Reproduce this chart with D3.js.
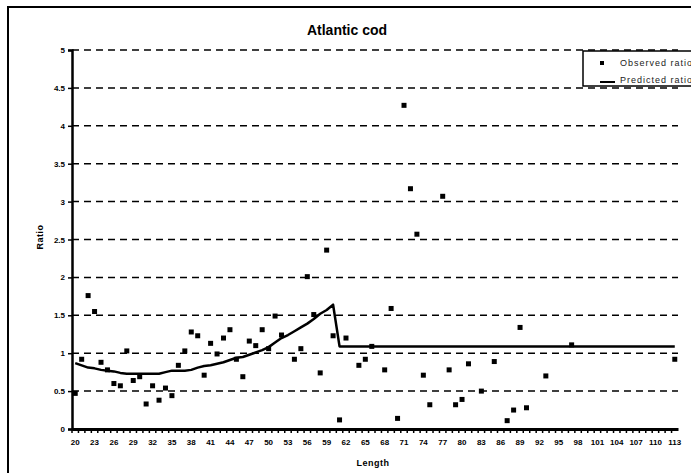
<!DOCTYPE html>
<html>
<head>
<meta charset="utf-8">
<script src="https://cdn.jsdelivr.net/npm/d3@7"></script>
<style>
  html, body { margin: 0; padding: 0; background: #fff; overflow: hidden; }
  svg { display: block; font-family: Arial, "Liberation Sans", sans-serif; }
</style>
</head>
<body>
<svg id="chart" width="691" height="473"></svg>
<script>
// Atlantic cod — observed vs predicted ratio by length

// categories: every length from 20 to 113
const lengths = d3.range(20, 114);
const yTicks = [0, 0.5, 1, 1.5, 2, 2.5, 3, 3.5, 4, 4.5, 5];

// observed ratio points (length, ratio)
const obsLength = [20, 21, 22, 23, 24, 25, 26, 27, 28, 29, 30, 31, 32, 33, 34, 35, 36, 37, 38, 39,
                   40, 41, 42, 43, 44, 45, 46, 47, 48, 49, 50, 51, 52, 54, 55, 56, 57, 58, 59, 60,
                   61, 62, 64, 65, 66, 68, 69, 70, 71, 72, 73, 74, 75, 77, 78, 79, 80, 81, 83, 85,
                   87, 88, 89, 90, 93, 97, 113];
const obsRatio  = [0.47, 0.92, 1.76, 1.55, 0.88, 0.78, 0.60, 0.57, 1.03, 0.64, 0.69, 0.33, 0.57, 0.38, 0.54, 0.44, 0.84, 1.03, 1.28, 1.23,
                   0.71, 1.13, 0.99, 1.20, 1.31, 0.92, 0.69, 1.16, 1.10, 1.31, 1.06, 1.49, 1.24, 0.92, 1.06, 2.01, 1.51, 0.74, 2.36, 1.23,
                   0.12, 1.20, 0.84, 0.92, 1.09, 0.78, 1.59, 0.14, 4.27, 3.17, 2.57, 0.71, 0.32, 3.07, 0.78, 0.32, 0.39, 0.86, 0.50, 0.89,
                   0.11, 0.25, 1.34, 0.28, 0.70, 1.11, 0.92];

// predicted ratio, one value per length 20..113
const predRatio = [0.87, 0.84, 0.81, 0.80, 0.78, 0.77, 0.76, 0.74, 0.73, 0.73,
                   0.73, 0.73, 0.73, 0.73, 0.75, 0.77, 0.77, 0.77, 0.78, 0.81,
                   0.83, 0.84, 0.86, 0.88, 0.91, 0.94, 0.95, 0.98, 1.01, 1.04,
                   1.08, 1.14, 1.20, 1.24, 1.29, 1.34, 1.39, 1.45, 1.52, 1.57,
                   1.64, 1.09, 1.09, 1.09, 1.09, 1.09, 1.09, 1.09, 1.09, 1.09,
                   1.09, 1.09, 1.09, 1.09, 1.09, 1.09, 1.09, 1.09, 1.09, 1.09,
                   1.09, 1.09, 1.09, 1.09, 1.09, 1.09, 1.09, 1.09, 1.09, 1.09,
                   1.09, 1.09, 1.09, 1.09, 1.09, 1.09, 1.09, 1.09, 1.09, 1.09,
                   1.09, 1.09, 1.09, 1.09, 1.09, 1.09, 1.09, 1.09, 1.09, 1.09,
                   1.09, 1.09, 1.09, 1.09];

const svg = d3.select("#chart");
const plotL = 72, plotR = 678, plotT = 50, plotB = 429;

// outer frame (runs past the right and bottom edges, as in the cropped original)
svg.append("rect")
    .attr("x", 8).attr("y", 7)
    .attr("width", 800).attr("height", 500)
    .attr("fill", "#fff")
    .attr("stroke", "#000")
    .attr("stroke-width", 2);

const x = d3.scaleBand().domain(lengths).range([plotL, plotR]);
const y = d3.scaleLinear().domain([0, 5]).range([plotB, plotT]);

// title
svg.append("text")
    .attr("x", 347).attr("y", 35)
    .attr("text-anchor", "middle")
    .attr("font-size", "14px")
    .attr("font-weight", "bold")
    .text("Atlantic cod");

// dashed gridlines
svg.append("g")
    .selectAll("line")
    .data(yTicks.filter(d => d > 0))
    .join("line")
    .attr("x1", plotL).attr("x2", plotR)
    .attr("y1", d => y(d)).attr("y2", d => y(d))
    .attr("stroke", "#000")
    .attr("stroke-width", 1.5)
    .attr("stroke-dasharray", "7,5");

// y axis
const yAxis = svg.append("g")
    .attr("transform", `translate(${plotL},0)`)
    .call(d3.axisLeft(y).tickValues(yTicks).tickSize(4).tickPadding(3).tickFormat(d => d));
yAxis.select(".domain").attr("stroke-width", 2.5);
yAxis.selectAll(".tick line").attr("stroke-width", 1.5);
yAxis.selectAll("text")
    .attr("font-size", "8px")
    .attr("font-weight", "bold")
    .attr("font-family", "Arial, 'Liberation Sans', sans-serif");

// x axis
const xAxis = svg.append("g")
    .attr("transform", `translate(0,${plotB})`)
    .call(d3.axisBottom(x).tickSize(0).tickPadding(10)
        .tickFormat(d => (d - 20) % 3 === 0 ? d : ""));
xAxis.select(".domain").attr("stroke-width", 3);
xAxis.selectAll("text")
    .attr("font-size", "8px")
    .attr("font-weight", "bold")
    .attr("font-family", "Arial, 'Liberation Sans', sans-serif");

// category boundary ticks
svg.append("g")
    .selectAll("line")
    .data(lengths)
    .join("line")
    .attr("x1", d => x(d)).attr("x2", d => x(d))
    .attr("y1", plotB).attr("y2", plotB + 4)
    .attr("stroke", "#000")
    .attr("stroke-width", 1.5);

// axis titles
svg.append("text")
    .attr("transform", "translate(43,237) rotate(-90)")
    .attr("text-anchor", "middle")
    .attr("font-size", "9px")
    .attr("font-weight", "bold")
    .attr("letter-spacing", "0.5px")
    .text("Ratio");

svg.append("text")
    .attr("x", 373).attr("y", 466)
    .attr("text-anchor", "middle")
    .attr("font-size", "9px")
    .attr("font-weight", "bold")
    .attr("letter-spacing", "0.5px")
    .text("Length");

const cx = d => x(d) + x.bandwidth() / 2;

// predicted line
svg.append("path")
    .datum(lengths.map((d, i) => [d, predRatio[i]]))
    .attr("fill", "none")
    .attr("stroke", "#000")
    .attr("stroke-width", 2.5)
    .attr("stroke-linejoin", "round")
    .attr("d", d3.line().x(d => cx(d[0])).y(d => y(d[1])));

// observed points
svg.append("g")
    .selectAll("rect")
    .data(obsLength.map((d, i) => [d, obsRatio[i]]))
    .join("rect")
    .attr("x", d => cx(d[0]) - 2.5)
    .attr("y", d => y(d[1]) - 2.5)
    .attr("width", 5).attr("height", 5)
    .attr("fill", "#000");

// legend (cut off by the right edge)
const lg = svg.append("g").attr("transform", "translate(583,51)");
lg.append("rect")
    .attr("width", 160).attr("height", 35)
    .attr("fill", "#fff")
    .attr("stroke", "#000")
    .attr("stroke-width", 1.5);
lg.append("rect")
    .attr("x", 17).attr("y", 10)
    .attr("width", 4).attr("height", 4)
    .attr("fill", "#000");
lg.append("line")
    .attr("x1", 17).attr("x2", 32)
    .attr("y1", 31).attr("y2", 31)
    .attr("stroke", "#000")
    .attr("stroke-width", 2);
lg.selectAll("text.lbl")
    .data(["Observed ratio", "Predicted ratio"])
    .join("text")
    .attr("class", "lbl")
    .attr("x", 37)
    .attr("y", (d, i) => 15 + i * 17)
    .attr("font-size", "9px")
    .attr("letter-spacing", "1px")
    .attr("fill", "#222")
    .text(d => d);
</script>
</body>
</html>
